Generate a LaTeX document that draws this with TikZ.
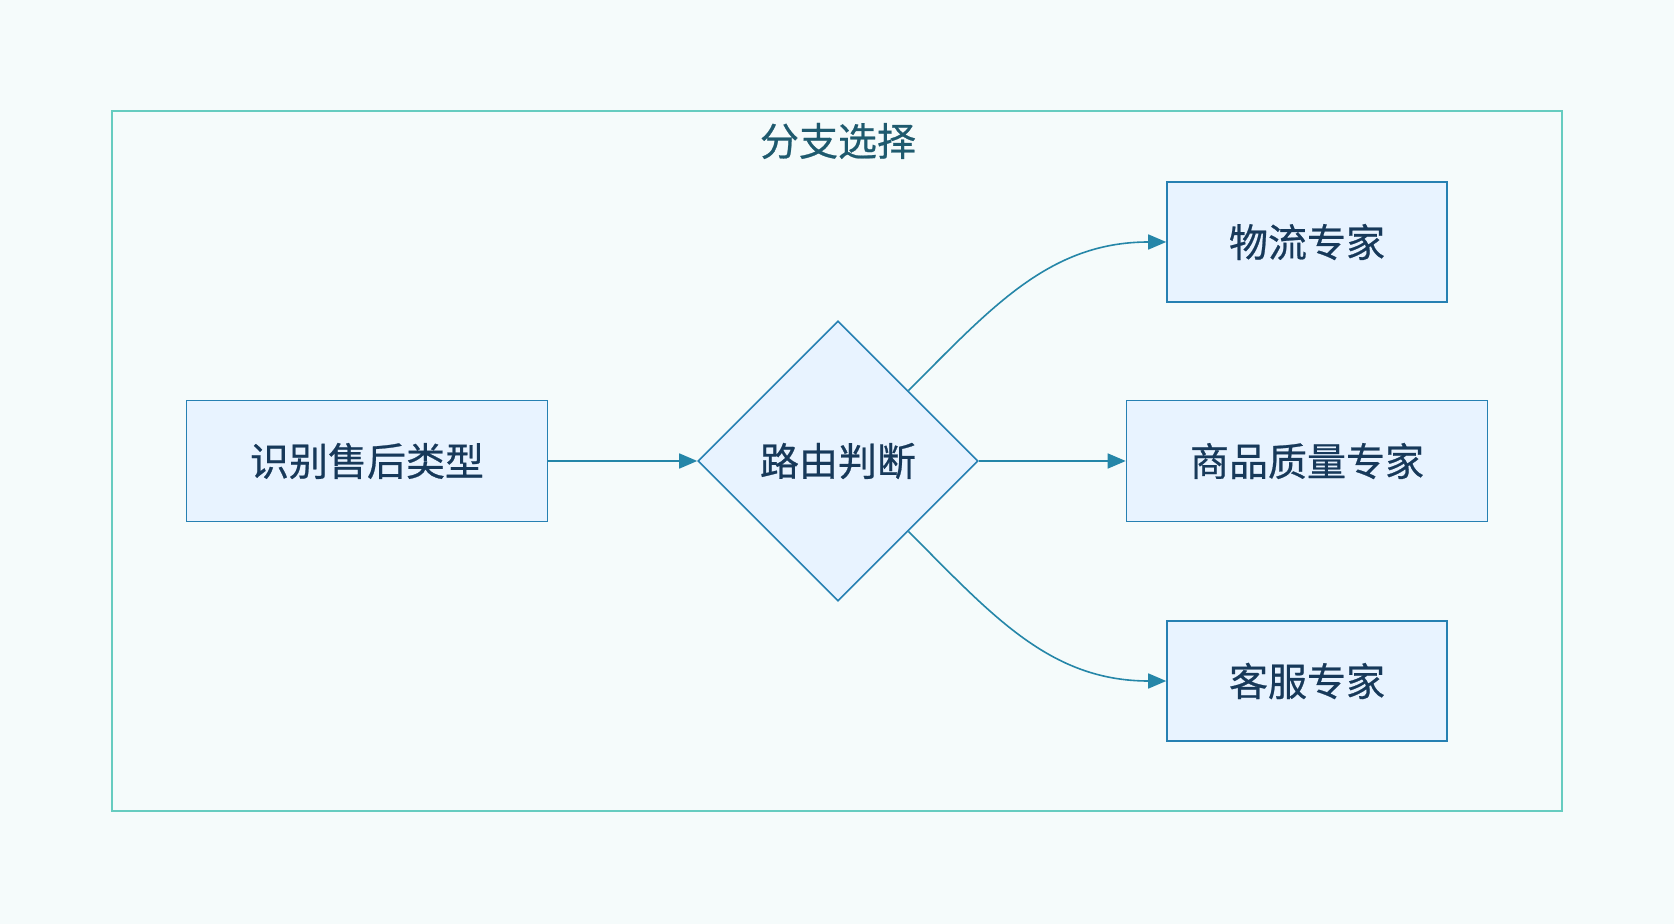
\documentclass[tikz,border=0pt]{standalone}
\usepackage{fontspec}
\newfontfamily\cjkfont[FakeBold=0.6]{Noto Sans CJK SC}
\usepackage{tikz}
\usetikzlibrary{shapes.geometric,arrows.meta}

\definecolor{bgcol}{HTML}{F5FBFB}
\definecolor{framecol}{HTML}{66CCC0}
\definecolor{boxfill}{HTML}{E8F3FF}
\definecolor{boxline}{HTML}{2680B2}
\definecolor{arrowcol}{HTML}{2586A8}
\definecolor{textcol}{HTML}{17395A}
\definecolor{titlecol}{HTML}{1E5A6E}

\begin{document}
\begin{tikzpicture}[x=0.5pt,y=-0.5pt,
	every node/.style={font=\cjkfont\fontsize{19.5}{23}\selectfont, text=textcol},
	stepbox/.style={draw=boxline, fill=boxfill, line width=0.8pt, rectangle, inner sep=0pt},
	decide/.style={draw=boxline, fill=boxfill, line width=0.8pt, diamond, inner sep=0pt, minimum width=140pt, minimum height=140pt},
	link/.style={color=arrowcol, line width=0.8pt, -{Triangle[length=9pt,width=7.5pt]}}]
	\fill[bgcol] (0,0) rectangle (1674,924);
	\useasboundingbox (0,0) rectangle (1674,924);
	\draw[framecol, line width=0.8pt] (112,111) rectangle (1562,811);
	\node[text=titlecol] (title) at (838,141) {分支选择};
	\node[stepbox, minimum width=180.5pt, minimum height=60.5pt] (identify) at (367,461) {识别售后类型};
	\node[decide] (route) at (838,461) {路由判断};
	\node[stepbox, minimum width=140pt, minimum height=60pt] (logistics) at (1307,242) {物流专家};
	\node[stepbox, minimum width=180.5pt, minimum height=60.5pt] (quality) at (1307,461) {商品质量专家};
	\node[stepbox, minimum width=140pt, minimum height=60pt] (service) at (1307,681) {客服专家};
	\draw[link] (identify) -- (route.west);
	\draw[link] (route.north east) .. controls +(83,-83) and +(-117,0) .. (logistics.west);
	\draw[link] (route.east) -- (quality.west);
	\draw[link] (route.south east) .. controls +(83,83) and +(-117,0) .. (service.west);
\end{tikzpicture}
\end{document}
